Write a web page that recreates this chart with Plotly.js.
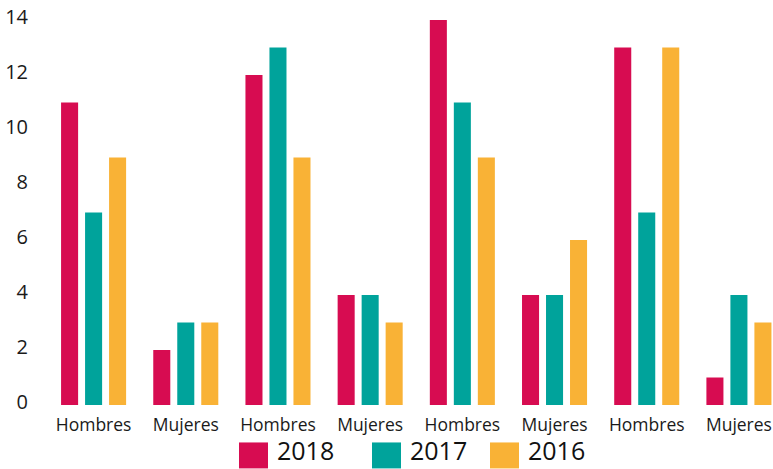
<!DOCTYPE html>
<html>
<head>
<meta charset="utf-8">
<script src="https://cdn.plot.ly/plotly-3.0.1.min.js"></script>
<style>html,body{margin:0;padding:0;background:#fff;}#chart{width:773px;height:469px;}</style>
</head>
<body>
<div id="chart"></div>
<script>
var categories = ["Hombres", "Mujeres", "Hombres", "Mujeres", "Hombres", "Mujeres", "Hombres", "Mujeres"];
var seriesNames = ["2018", "2017", "2016"];
var values2018 = [11, 2, 12, 4, 14, 4, 13, 1];
var values2017 = [7, 3, 13, 4, 11, 4, 7, 4];
var values2016 = [9, 3, 9, 3, 9, 6, 13, 3];
var yTicks = [0, 2, 4, 6, 8, 10, 12, 14];

var colors = ["#D70C51", "#00A39B", "#F9B236"];
var seriesValues = [values2018, values2017, values2016];
var FONT = "Open Sans, sans-serif";

var xIdx = categories.map(function (c, i) { return i; });
var traces = seriesNames.map(function (n, k) {
  return {
    type: "bar", name: n, x: xIdx, y: seriesValues[k],
    marker: {color: colors[k]}, showlegend: false, hoverinfo: "y"
  };
});

var W = 773, H = 469, L = 47, R = 0, T = 20, B = 63.5;
var plotW = W - L - R, plotH = H - T - B;
function px2x(px) { return (px - L) / plotW; }
function py2y(py) { return (H - B - py) / plotH; }

// legend built from series names/colors
var legendSq = [239, 372, 490];
var shapes = [], annotations = [];
seriesNames.forEach(function (n, k) {
  shapes.push({type: "rect", xref: "paper", yref: "paper",
    x0: px2x(legendSq[k]), x1: px2x(legendSq[k] + 29),
    y0: py2y(469), y1: py2y(443), fillcolor: colors[k], line: {width: 0}});
  annotations.push({xref: "paper", yref: "paper", x: px2x(legendSq[k] + 37), y: py2y(468.5),
    xanchor: "left", yanchor: "bottom", text: n, showarrow: false,
    borderpad: 0,
    font: {family: FONT, size: 25, color: "#111"}});
});

var layout = {
  width: W, height: H,
  margin: {l: L, r: R, t: T, b: B},
  paper_bgcolor: "#fff", plot_bgcolor: "#fff",
  barmode: "group", bargap: 0.219, bargroupgap: 0.29,
  showlegend: false,
  xaxis: {
    range: [-0.5054, -0.5054 + plotW / 92.19],
    tickmode: "array", tickvals: xIdx, ticktext: categories,
    showgrid: false, zeroline: false, showline: false, ticks: "",
    tickfont: {family: FONT, size: 17.5, color: "#1a1a1a"},
    ticklabelstandoff: 7
  },
  yaxis: {
    range: [0, 14], tickmode: "array", tickvals: yTicks,
    showgrid: false, zeroline: false, showline: false, ticks: "",
    tickfont: {family: FONT, size: 20, color: "#1a1a1a"},
    ticklabelstandoff: 18, ticklabelshift: -3
  },
  shapes: shapes, annotations: annotations
};
Plotly.newPlot("chart", traces, layout, {displayModeBar: false, staticPlot: true});
</script>
</body>
</html>
